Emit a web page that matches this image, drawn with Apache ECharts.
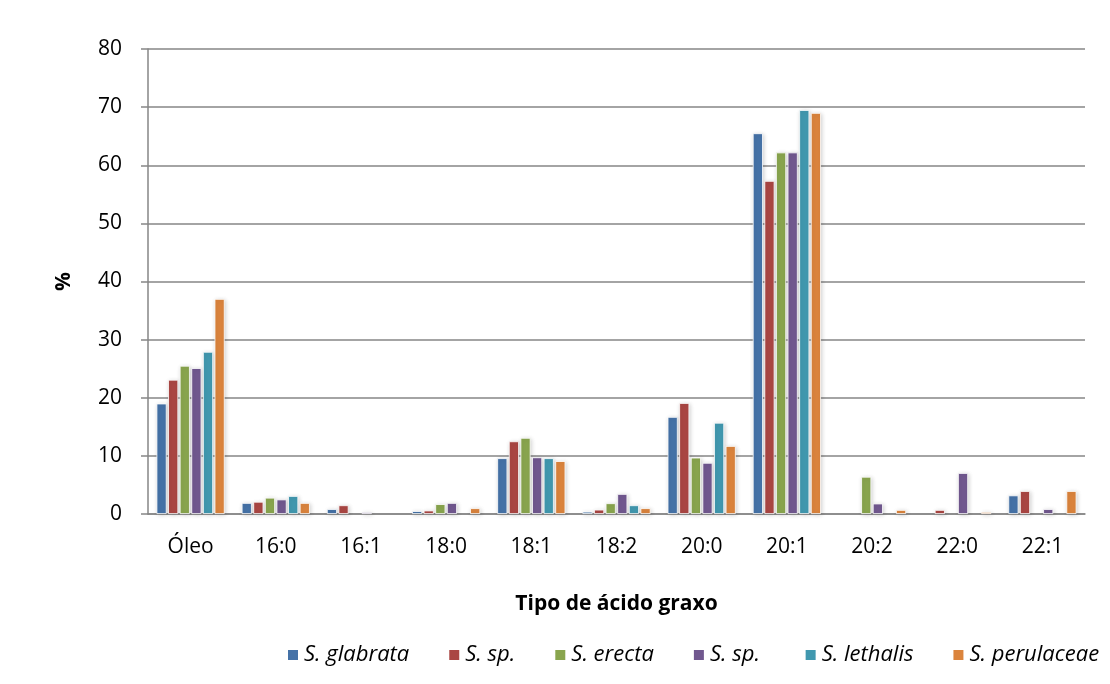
<!DOCTYPE html>
<html><head><meta charset="utf-8">
<script src="https://cdn.jsdelivr.net/npm/echarts@6/dist/echarts.min.js"></script>
<style>html,body{margin:0;padding:0;background:#fff}#c{width:1110px;height:684px}</style>
</head><body><div id="c"></div>
<script>
const categories = ['Óleo','16:0','16:1','18:0','18:1','18:2','20:0','20:1','20:2','22:0','22:1'];
const seriesNames = ['S. glabrata','S. sp.','S. erecta','S. sp. ','S. lethalis','S. perulaceae'];
const glabrata   = [19.0, 1.9, 0.85, 0.5, 9.6, 0.4, 16.7, 65.5, 0, 0, 3.2];
const sp1        = [23.1, 2.1, 1.5, 0.6, 12.5, 0.75, 19.1, 57.3, 0, 0.7, 3.95];
const erecta     = [25.5, 2.8, 0, 1.7, 13.1, 1.85, 9.7, 62.2, 6.4, 0, 0];
const sp2        = [25.1, 2.5, 0.3, 1.9, 9.75, 3.45, 8.8, 62.2, 1.8, 7.05, 0.85];
const lethalis   = [27.9, 3.1, 0, 0, 9.6, 1.5, 15.7, 69.5, 0, 0, 0];
const perulaceae = [37.0, 1.9, 0, 1.0, 9.1, 1.0, 11.7, 69.0, 0.7, 0.35, 3.95];
const yTicks = [0,10,20,30,40,50,60,70,80];
const colors = ['#4572A7','#AA4643','#89A54E','#71588F','#4198AF','#DB843D'];
const data = [glabrata, sp1, erecta, sp2, lethalis, perulaceae];
const font = '"Open Sans", "Noto Sans", sans-serif';
const chart = echarts.init(document.getElementById('c'));
chart.setOption({
  animation:false,
  backgroundColor:'#fff',
  grid:{left:148,right:25,top:49,bottom:170,containLabel:false},
  legend:{
    bottom:13,left:281,itemWidth:12,itemHeight:12,itemGap:38,icon:'rect',
    textStyle:{fontFamily:font,fontStyle:'italic',fontSize:22,color:'#000'},
    data:seriesNames
  },
  xAxis:{
    type:'category',data:categories,
    name:'Tipo de ácido graxo',nameLocation:'middle',nameGap:80,
    nameTextStyle:{fontFamily:font,fontWeight:'bold',fontSize:21,color:'#000'},
    axisLine:{lineStyle:{color:'#868686',width:1.5}},
    axisTick:{show:false},
    axisLabel:{fontFamily:font,fontSize:21,color:'#000',margin:23}
  },
  yAxis:{
    type:'value',min:0,max:80,interval:10,
    name:'%',nameLocation:'middle',nameGap:73,nameRotate:90,
    nameTextStyle:{fontFamily:font,fontWeight:'bold',fontSize:21,color:'#000'},
    axisLine:{show:true,lineStyle:{color:'#868686',width:1.5}},
    axisTick:{show:true,length:7,inside:false,lineStyle:{color:'#868686',width:1.5}},
    splitLine:{lineStyle:{color:'#868686',width:1.5}},
    axisLabel:{fontFamily:font,fontSize:21,color:'#000',margin:26,
      formatter:v=>yTicks.includes(v)?String(v):''}
  },
  series:data.map((d,i)=>({
    name:seriesNames[i],type:'bar',data:d.map(v=>v===0?null:v),
    barGap:'15%',barCategoryGap:'20%',
    itemStyle:{color:colors[i],borderColor:'#fff',borderWidth:0.8,
      shadowColor:'rgba(0,0,0,0.18)',shadowBlur:4,shadowOffsetX:1,shadowOffsetY:1}
  }))
});
</script></body></html>
